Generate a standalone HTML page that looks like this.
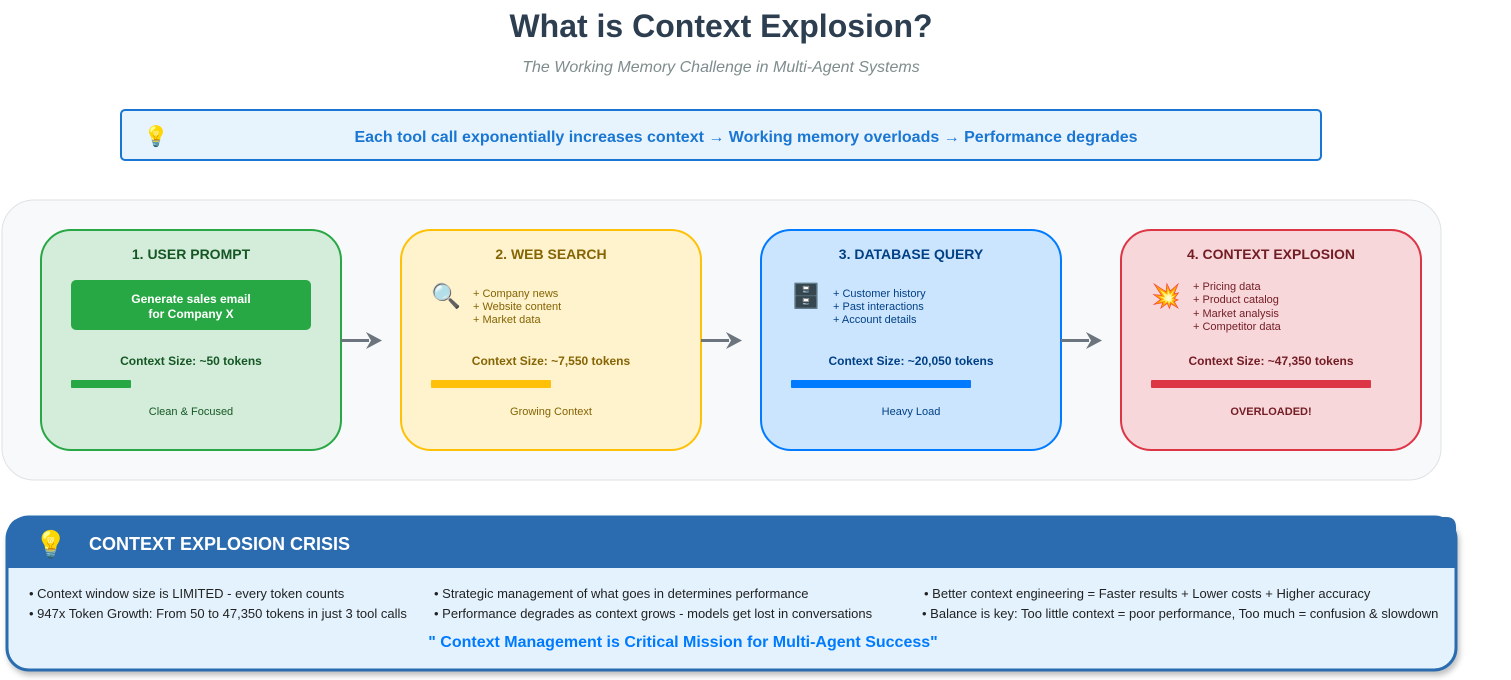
<!DOCTYPE html>
<html><head><meta charset="utf-8"><style>
html,body{margin:0;padding:0;background:#fff;width:1511px;height:680px;overflow:hidden}
svg text{font-family:"Liberation Sans",sans-serif}
</style></head><body>
<svg width="1511" height="680" xmlns="http://www.w3.org/2000/svg">
<defs>
<filter id="sh" x="-5%" y="-10%" width="110%" height="130%"><feDropShadow dx="2" dy="4" stdDeviation="3" flood-color="#000" flood-opacity="0.25"/></filter>
</defs>
<text x="721" y="37" text-anchor="middle" font-size="32" font-weight="bold" fill="#2c3e50">What is Context Explosion?</text>
<text x="721" y="72" text-anchor="middle" font-size="16" font-style="italic" fill="#7f8c8d">The Working Memory Challenge in Multi-Agent Systems</text>

<rect x="121" y="110" width="1200" height="50" rx="4" fill="#e8f4fd" stroke="#1976d2" stroke-width="2"/>
<text x="156" y="143" text-anchor="middle" font-size="20">💡</text>
<text x="746" y="142" text-anchor="middle" font-size="16" font-weight="bold" fill="#1976d2">Each tool call exponentially increases context → Working memory overloads → Performance degrades</text>

<rect x="2" y="200" width="1439" height="280" rx="32" fill="#f8f9fa" stroke="#dee2e6" stroke-width="1"/>

<rect x="41" y="230" width="300" height="220" rx="30" fill="#d4edda" stroke="#28a745" stroke-width="2"/>
<text x="191" y="259" text-anchor="middle" font-size="14" font-weight="bold" fill="#155724">1. USER PROMPT</text>
<rect x="71" y="280" width="240" height="50" rx="5" fill="#28a745"/>
<text x="191" y="303" text-anchor="middle" font-size="12" font-weight="bold" fill="#fff">Generate sales email</text>
<text x="191" y="318" text-anchor="middle" font-size="12" font-weight="bold" fill="#fff">for Company X</text>
<text x="191" y="365" text-anchor="middle" font-size="12" font-weight="bold" fill="#155724">Context Size: ~50 tokens</text>
<rect x="71" y="380" width="60" height="8" rx="1" fill="#28a745"/>
<text x="191" y="415" text-anchor="middle" font-size="11" fill="#155724">Clean &amp; Focused</text>

<rect x="401" y="230" width="300" height="220" rx="30" fill="#fff3cd" stroke="#ffc107" stroke-width="2"/>
<text x="551" y="259" text-anchor="middle" font-size="14" font-weight="bold" fill="#856404">2. WEB SEARCH</text>
<text x="446" y="304" text-anchor="middle" font-size="24">🔍</text>
<text x="473" y="297" font-size="11" fill="#856404">+ Company news</text>
<text x="473" y="310" font-size="11" fill="#856404">+ Website content</text>
<text x="473" y="323" font-size="11" fill="#856404">+ Market data</text>
<text x="551" y="365" text-anchor="middle" font-size="12" font-weight="bold" fill="#856404">Context Size: ~7,550 tokens</text>
<rect x="431" y="380" width="120" height="8" rx="1" fill="#ffc107"/>
<text x="551" y="415" text-anchor="middle" font-size="11" fill="#856404">Growing Context</text>

<rect x="761" y="230" width="300" height="220" rx="30" fill="#cce5ff" stroke="#007bff" stroke-width="2"/>
<text x="911" y="259" text-anchor="middle" font-size="14" font-weight="bold" fill="#004085">3. DATABASE QUERY</text>
<text x="806" y="304" text-anchor="middle" font-size="24">🗄️</text>
<text x="833" y="297" font-size="11" fill="#004085">+ Customer history</text>
<text x="833" y="310" font-size="11" fill="#004085">+ Past interactions</text>
<text x="833" y="323" font-size="11" fill="#004085">+ Account details</text>
<text x="911" y="365" text-anchor="middle" font-size="12" font-weight="bold" fill="#004085">Context Size: ~20,050 tokens</text>
<rect x="791" y="380" width="180" height="8" rx="1" fill="#007bff"/>
<text x="911" y="415" text-anchor="middle" font-size="11" fill="#004085">Heavy Load</text>

<rect x="1121" y="230" width="300" height="220" rx="30" fill="#f8d7da" stroke="#dc3545" stroke-width="2"/>
<text x="1271" y="259" text-anchor="middle" font-size="14" font-weight="bold" fill="#721c24">4. CONTEXT EXPLOSION</text>
<text x="1166" y="304" text-anchor="middle" font-size="24">💥</text>
<text x="1193" y="290" font-size="11" fill="#721c24">+ Pricing data</text>
<text x="1193" y="303" font-size="11" fill="#721c24">+ Product catalog</text>
<text x="1193" y="317" font-size="11" fill="#721c24">+ Market analysis</text>
<text x="1193" y="330" font-size="11" fill="#721c24">+ Competitor data</text>
<text x="1271" y="365" text-anchor="middle" font-size="12" font-weight="bold" fill="#721c24">Context Size: ~47,350 tokens</text>
<rect x="1151" y="380" width="220" height="8" rx="1" fill="#dc3545"/>
<text x="1271" y="415" text-anchor="middle" font-size="11" font-weight="bold" fill="#721c24">OVERLOADED!</text>

<g fill="#6c757d" stroke="none">
<rect x="341" y="339" width="28" height="3"/><path d="M366,332 L382,340.5 L366,349 L371,340.5 Z"/>
<rect x="701" y="339" width="28" height="3"/><path d="M726,332 L742,340.5 L726,349 L731,340.5 Z"/>
<rect x="1061" y="339" width="28" height="3"/><path d="M1086,332 L1102,340.5 L1086,349 L1091,340.5 Z"/>
</g>

<g filter="url(#sh)">
<rect x="7" y="517" width="1449" height="153" rx="22" fill="#e3f2fd" stroke="#2b6cb0" stroke-width="3"/>
</g>
<path d="M7,537 Q7,517 27,517 L1446,517 Q1456,517 1456,527 L1456,568 L7,568 Z" fill="#2b6cb0"/>
<text x="51" y="553" text-anchor="middle" font-size="26">💡</text>
<text x="89" y="550" font-size="18" font-weight="bold" fill="#fff">CONTEXT EXPLOSION CRISIS</text>
<g font-size="13" fill="#222">
<text x="29" y="598">• Context window size is LIMITED - every token counts</text>
<text x="29" y="618">• 947x Token Growth: From 50 to 47,350 tokens in just 3 tool calls</text>
<text x="434" y="598">• Strategic management of what goes in determines performance</text>
<text x="434" y="618">• Performance degrades as context grows - models get lost in conversations</text>
<text x="924" y="598">• Better context engineering = Faster results + Lower costs + Higher accuracy</text>
<text x="922" y="618">• Balance is key: Too little context = poor performance, Too much = confusion &amp; slowdown</text>
</g>
<text x="683" y="647" text-anchor="middle" font-size="16" font-weight="bold" fill="#007bff">" Context Management is Critical Mission for Multi-Agent Success"</text>
</svg>
</body></html>
